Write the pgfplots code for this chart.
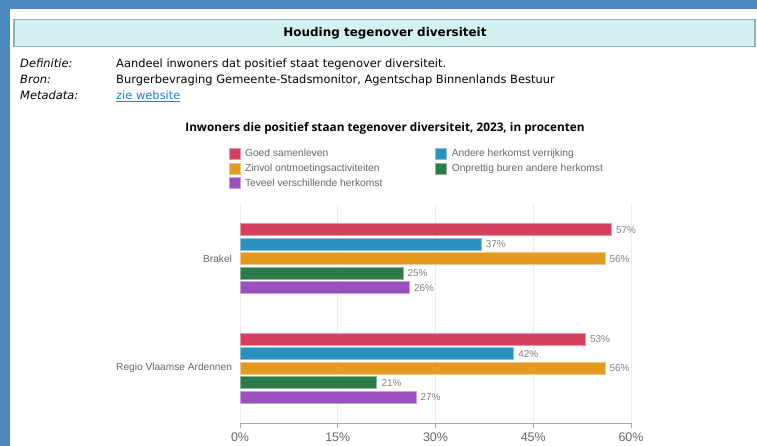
\documentclass[border=0pt]{standalone}
\usepackage{fontspec}
\setmainfont{Liberation Sans}
\newfontfamily\hdr{DejaVu Sans}
\newfontfamily\ttl{Open Sans}
\usepackage{pgfplots}
\pgfplotsset{compat=1.18}
\definecolor{bgblue}{HTML}{4A89BF}
\definecolor{boxfill}{HTML}{D3F0F3}
\definecolor{boxdraw}{HTML}{86B4B8}
\definecolor{linkblue}{HTML}{2A7AD0}
\definecolor{cRed}{HTML}{D6405F}
\definecolor{cBlue}{HTML}{2A90BF}
\definecolor{cOrange}{HTML}{E49A20}
\definecolor{cGreen}{HTML}{2E7B4A}
\definecolor{cPurple}{HTML}{9B50BF}
\definecolor{txtgray}{HTML}{666666}
\definecolor{valgray}{HTML}{808080}
\begin{document}
\begin{tikzpicture}
\useasboundingbox (0,0) rectangle (757bp,446bp);
\begin{scope}[x=1bp,y=-1bp,yshift=446bp]
\fill[bgblue] (0,0) rectangle (757,446);
\fill[white] (10,9) rectangle (757,446);
\filldraw[fill=boxfill,draw=boxdraw,line width=1.2bp] (14,19.5) rectangle (755,46.5);
\node[font=\hdr\bfseries\fontsize{12}{14}\selectfont] at (385,33) {Houding tegenover diversiteit};
\begin{scope}[every node/.style={anchor=base west,inner sep=0pt,font=\hdr\fontsize{11.5}{14}\selectfont}]
\node at (20,67.5) {\itshape Definitie:};
\node at (20,83.5) {\itshape Bron:};
\node at (20,99.5) {\itshape Metadata:};
\node at (116,67.5) {Aandeel inwoners dat positief staat tegenover diversiteit.};
\node at (116,83.5) {Burgerbevraging Gemeente-Stadsmonitor, Agentschap Binnenlands Bestuur};
\node[text=linkblue] at (116,99.5) {\underline{zie website}};
\end{scope}
\node[font=\ttl\bfseries\fontsize{11.8}{14}\selectfont] at (385,128) {Inwoners die positief staan tegenover diversiteit, 2023, in procenten};
\end{scope}
\begin{axis}[
  at={(240bp,23bp)}, anchor=south west,
  scale only axis, width=391bp, height=219bp,
  xbar, bar width=12bp,
  xmin=0, xmax=60, ymin=-0.5, ymax=1.5,
  y dir=reverse,
  ytick={0,1}, yticklabels={Brakel,Regio Vlaamse Ardennen},
  xtick={0,15,30,45,60}, xticklabels={0\%,15\%,30\%,45\%,60\%},
  axis x line*=bottom, axis y line*=left,
  y axis line style={draw=none},
  x axis line style={draw=gray!70, line width=0.8bp},
  xtick align=outside, ytick style={draw=none},
  xtick style={draw=gray!70, line width=0.8bp},
  major tick length=5bp,
  xmajorgrids, grid style={draw=gray!15, line width=0.8bp},
  xticklabel style={font=\fontsize{12.5}{14}\selectfont, text=txtgray, yshift=-1bp},
  yticklabel style={font=\fontsize{10.2}{12}\selectfont, text=txtgray, xshift=0.5bp},
  /pgf/number format/assume math mode=true,
  nodes near coords={\pgfmathprintnumber{\pgfplotspointmeta}\%},
  every node near coord/.append style={font=\fontsize{10}{12}\selectfont, text=valgray, anchor=west, xshift=1bp},
  legend columns=2,
  legend style={at={(axis description cs:-0.037,1.27)}, anchor=north west, draw=none, fill=none,
     font=\fontsize{10.3}{12}\selectfont, text=txtgray, row sep=2bp,
     nodes={inner xsep=4.5bp},
     /tikz/column 2/.style={column sep=48.5bp}},
  legend cell align=left,
  legend image code/.code={\fill[#1] (0bp,-5.5bp) rectangle (11bp,5.5bp);},
  clip=false,
]
\addplot[fill=cRed, draw=cRed!55!white, line width=0.8bp, bar shift=29bp] coordinates {(57,0) (53,1)};
\addplot[fill=cBlue, draw=cBlue!55!white, line width=0.8bp, bar shift=14.5bp] coordinates {(37,0) (42,1)};
\addplot[fill=cOrange, draw=cOrange!55!white, line width=0.8bp, bar shift=0bp] coordinates {(56,0) (56,1)};
\addplot[fill=cGreen, draw=cGreen!55!white, line width=0.8bp, bar shift=-14.5bp] coordinates {(25,0) (21,1)};
\addplot[fill=cPurple, draw=cPurple!55!white, line width=0.8bp, bar shift=-29bp] coordinates {(26,0) (27,1)};
\legend{Goed samenleven, Andere herkomst verrijking, Zinvol ontmoetingsactiviteiten, Onprettig buren andere herkomst, Teveel verschillende herkomst}
\end{axis}
\end{tikzpicture}
\end{document}
